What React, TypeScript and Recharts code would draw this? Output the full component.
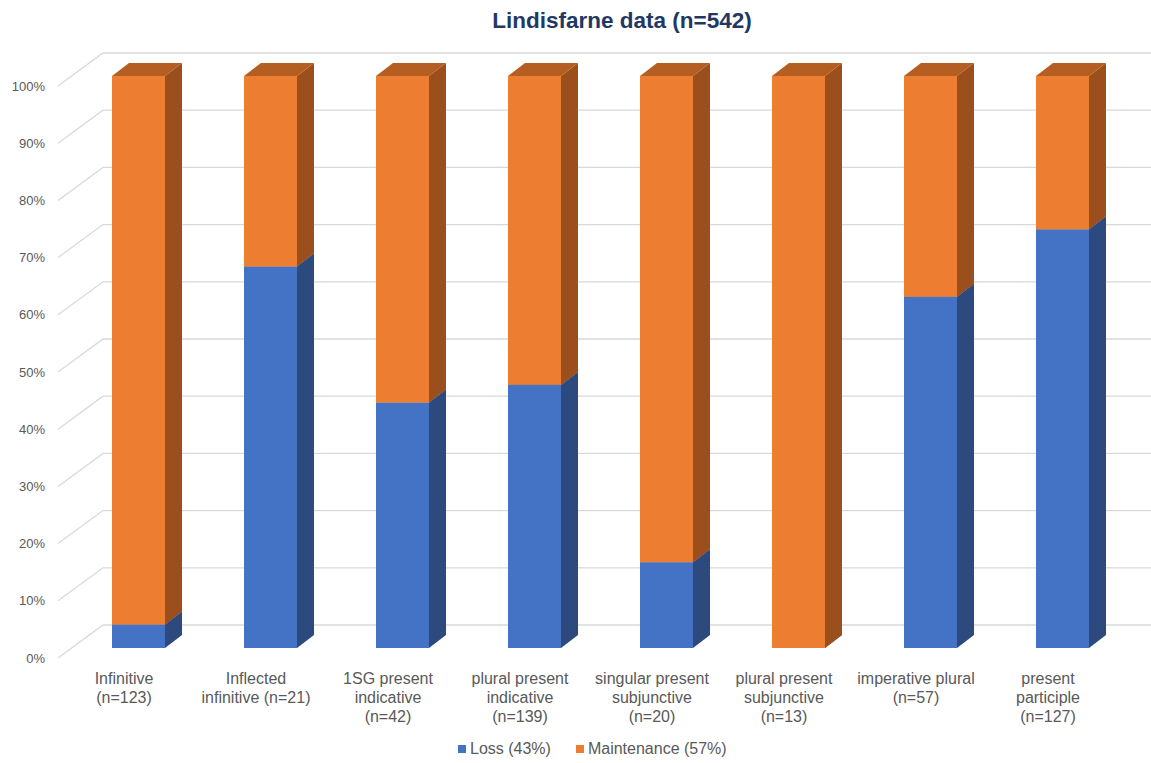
import { BarChart, Bar, XAxis, YAxis, CartesianGrid, Legend } from 'recharts';

// verb categories (line breaks are where the axis label wraps)
const categories = [
  'Infinitive\n(n=123)',
  'Inflected\ninfinitive (n=21)',
  '1SG present\nindicative\n(n=42)',
  'plural present\nindicative\n(n=139)',
  'singular present\nsubjunctive\n(n=20)',
  'plural present\nsubjunctive\n(n=13)',
  'imperative plural\n(n=57)',
  'present\nparticiple\n(n=127)',
];
const loss = [4.1, 66.7, 42.9, 46.0, 15.0, 0, 61.4, 73.2];
const maintenance = [95.9, 33.3, 57.1, 54.0, 85.0, 100, 38.6, 26.8];
const yTicks = [0, 10, 20, 30, 40, 50, 60, 70, 80, 90, 100];

const data = categories.map((name, i) => ({ name, loss: loss[i], maintenance: maintenance[i] }));

const FONT = '"Liberation Sans", Arial, Helvetica, sans-serif';
const TEXT = '#595959';
// depth of each 3d column
const DX = 17;
const DY = 13;

const Box3D = (props) => {
  const { x, y, width, height, fill, sideFill, topFill } = props;
  if (height == null || width == null) return null;
  const r = x + width;
  return (
    <g>
      <rect x={x} y={y} width={width} height={height} fill={fill} />
      <polygon
        points={`${r},${y} ${r + DX},${y - DY} ${r + DX},${y + height - DY} ${r},${y + height}`}
        fill={sideFill}
      />
      <polygon
        points={`${x},${y} ${x + DX},${y - DY} ${r + DX},${y - DY} ${r},${y}`}
        fill={topFill}
      />
    </g>
  );
};

// grid lines run from the label plane up to the back wall, then across
const GridLine = (props) => {
  const { x1, x2, y1 } = props;
  return (
    <path
      d={`M${x1 - 14},${y1 + 10} L${x1 + 31},${y1 - 23} L${x2 + 23},${y1 - 23}`}
      stroke="#d9d9d9"
      strokeWidth={1.3}
      fill="none"
    />
  );
};

const YTick = ({ y, payload }) => (
  <text x={45} y={y + 10} textAnchor="end" dominantBaseline="central" fill={TEXT} fontSize={13} fontFamily={FONT}>
    {payload.value}%
  </text>
);

const XTick = ({ x, y, payload }) => {
  const lines = String(payload.value).split('\n');
  return (
    <text textAnchor="middle" fill={TEXT} fontSize={16} fontFamily={FONT}>
      {lines.map((l, i) => (
        <tspan key={i} x={x - 14} y={y + 36 + i * 19}>
          {l}
        </tspan>
      ))}
    </text>
  );
};

const LegendContent = () => (
  <div style={{ display: 'flex', alignItems: 'center', fontFamily: FONT, fontSize: 16, color: TEXT, whiteSpace: 'nowrap' }}>
    <span style={{ width: 8, height: 8, background: '#4472C4', display: 'inline-block', marginRight: 4 }} />
    <span>Loss (43%)</span>
    <span style={{ width: 8, height: 8, background: '#ED7D31', display: 'inline-block', marginLeft: 25, marginRight: 4 }} />
    <span>Maintenance (57%)</span>
  </div>
);

const App = () => {
  return (
    <div style={{ position: 'absolute', left: 0, top: 0, width: 1151, height: 763, background: '#fff' }}>
      <div
        style={{
          position: 'absolute',
          left: 0,
          width: 1244,
          top: 8,
          textAlign: 'center',
          fontFamily: FONT,
          fontWeight: 'bold',
          fontSize: 22.5,
          color: '#1F3864',
          zIndex: 2,
        }}
      >
        Lindisfarne data (n=542)
      </div>
      <BarChart
        width={1151}
        height={763}
        data={data}
        margin={{ top: 76, right: 23, left: 0, bottom: 35 }}
        barSize={53}
      >
        <CartesianGrid vertical={false} horizontal={(p) => <GridLine key={p.key} {...p} />} />
        <XAxis dataKey="name" interval={0} height={80} axisLine={false} tickLine={false} tickSize={0} tickMargin={0} tick={<XTick />} />
        <YAxis
          width={72}
          domain={[0, 100]}
          ticks={yTicks}
          axisLine={false}
          tickLine={false}
          tick={<YTick />}
        />
        <Legend
          layout="horizontal"
          verticalAlign="middle"
          wrapperStyle={{ top: 740, left: 458, width: 'auto' }}
          content={<LegendContent />}
        />
        <Bar
          dataKey="loss"
          name="Loss (43%)"
          stackId="a"
          fill="#4472C4"
          isAnimationActive={false}
          shape={(p) => <Box3D {...p} sideFill="#2C4A7E" topFill="#3A64B0" />}
        />
        <Bar
          dataKey="maintenance"
          name="Maintenance (57%)"
          stackId="a"
          fill="#ED7D31"
          isAnimationActive={false}
          shape={(p) => <Box3D {...p} sideFill="#9A4F1D" topFill="#B55E22" />}
        />
      </BarChart>
    </div>
  );
};

export default App;
